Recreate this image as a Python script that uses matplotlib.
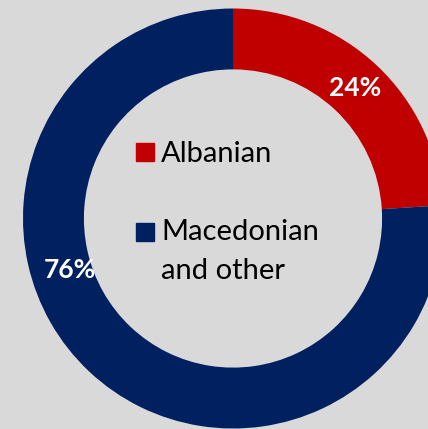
import matplotlib.pyplot as plt
from matplotlib.patches import Rectangle

labels = ["Albanian", "Macedonian\nand other"]
shares = [24, 76]
colors = ["#C00000", "#002060"]
bg = "#D9D9D9"

W, H = 428, 429
fig = plt.figure(figsize=(W / 100, H / 100), dpi=100, facecolor=bg)
ax = fig.add_axes([0, 0, 1, 1])
ax.set_facecolor(bg)

# pie centre at pixel (233, 218.5), outer radius 210 px
cx, cy, r = 233, 218.5, 210
wedges, texts, pcts = ax.pie(
    shares, colors=colors, startangle=90, counterclock=False,
    radius=1, wedgeprops=dict(width=0.29, edgecolor="none"),
    autopct="%d%%", pctdistance=0.85,
    textprops=dict(color="white", fontsize=19, fontweight="bold", family="Lato"))
# Excel puts the big slice's label off its midpoint
pcts[1].set_position((-163 / r, -51.5 / r))

ax.set_xlim(-cx / r, (W - cx) / r)
ax.set_ylim(-(H - cy) / r, cy / r)
ax.set_aspect("auto")
ax.axis("off")


def fx(px):
    return px / W


def fy(py):
    return 1 - py / H


# legend inside the hole
sq = 18
for i, (lab, col) in enumerate(zip(labels, colors)):
    top = [143, 223][i]
    fig.patches.append(Rectangle((fx(136), fy(top + sq)), sq / W, sq / H,
                                 transform=fig.transFigure, color=col))
    base = [161.5, 240][i]
    for j, line in enumerate(lab.split("\n")):
        fig.text(fx(161), fy(base + 39 * j), line, ha="left", va="baseline",
                 fontsize=21, family="Lato", color="black")

fig.savefig("out.png", dpi=100, facecolor=bg)
